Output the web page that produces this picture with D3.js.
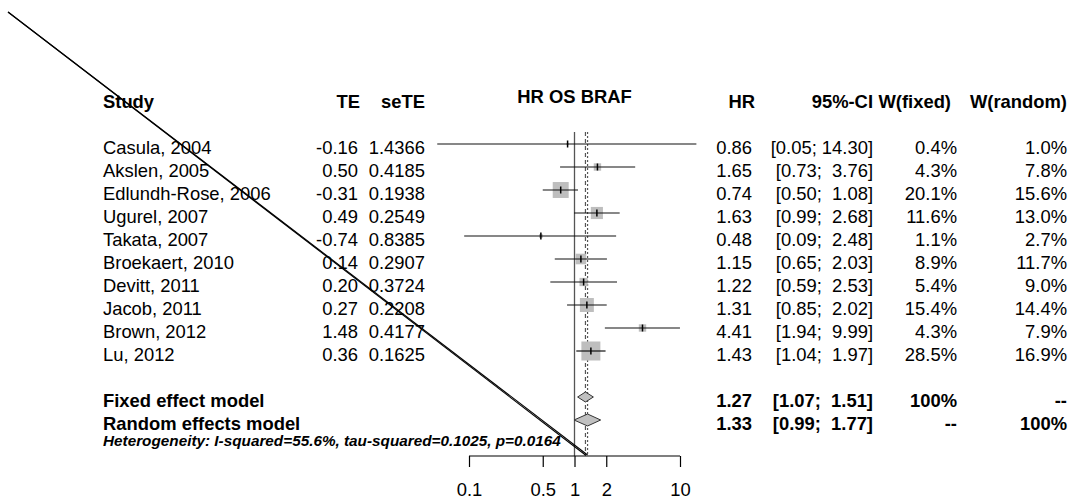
<!DOCTYPE html>
<html>
<head>
<meta charset="utf-8">
<script src="https://cdn.jsdelivr.net/npm/d3@7"></script>
<style>
html,body{margin:0;padding:0;background:#fff;}
svg text{font-family:"Liberation Sans",Arial,sans-serif;white-space:pre;}
</style>
</head>
<body>
<svg id="chart" width="1070" height="502"></svg>
<script>
const studies = ["Casula, 2004","Akslen, 2005","Edlundh-Rose, 2006","Ugurel, 2007","Takata, 2007","Broekaert, 2010","Devitt, 2011","Jacob, 2011","Brown, 2012","Lu, 2012"];
const te = [-0.16,0.50,-0.31,0.49,-0.74,0.14,0.20,0.27,1.48,0.36];
const seTE = [1.4366,0.4185,0.1938,0.2549,0.8385,0.2907,0.3724,0.2208,0.4177,0.1625];
const hr = [0.86,1.65,0.74,1.63,0.48,1.15,1.22,1.31,4.41,1.43];
const lower = [0.05,0.73,0.50,0.99,0.09,0.65,0.59,0.85,1.94,1.04];
const upper = [14.30,3.76,1.08,2.68,2.48,2.03,2.53,2.02,9.99,1.97];
const wFixed = [0.4,4.3,20.1,11.6,1.1,8.9,5.4,15.4,4.3,28.5];
const wRandom = [1.0,7.8,15.6,13.0,2.7,11.7,9.0,14.4,7.9,16.9];
const modelNames = ["Fixed effect model","Random effects model"];
const modelHR = [1.27,1.33];
const modelLower = [1.07,0.99];
const modelUpper = [1.51,1.77];
const modelWFixed = ["100%","--"];
const modelWRandom = ["--","100%"];
const axisTicks = [0.1,0.5,1,2,10];
const headers = ["Study","TE","seTE","HR OS BRAF","HR","95%-CI","W(fixed)","W(random)"];
const heterogeneity = "Heterogeneity: I-squared=55.6%, tau-squared=0.1025, p=0.0164";

const svg = d3.select("#chart");
const FS = 18.4;
const x = d3.scaleLog().domain([0.1,10]).range([469,680]);
const y = d3.scaleLinear().domain([0,13]).range([144,443]);
const sq = d3.scaleSqrt().domain([0,28.5]).range([0,19]);
const axisY = 456;
const topLine = 132;

const col = {study:103, te:358, se:425, hr:752, ci:873, wf:957, wr:1067};
const f2 = v => v.toFixed(2);
const pad = (s,n) => " ".repeat(Math.max(0,n-s.length)) + s;
const ciText = (lo,hi) => "[" + f2(lo) + "; " + pad(f2(hi),5) + "]";

function txt(xp, yp, s, anchor, weight, size, style){
  return svg.append("text").attr("x",xp).attr("y",yp).attr("text-anchor",anchor||"start")
    .attr("font-weight",weight||"normal").attr("font-size",size||FS)
    .attr("font-style",style||"normal").attr("fill","#000").text(s);
}

// headers
const hy = y(-2)+9.5;
txt(col.study,hy,headers[0],"start","bold");
txt(360,hy,headers[1],"end","bold");
txt(col.se,hy,headers[2],"end","bold");
txt(x(1),103,headers[3],"middle","bold");
txt(755,hy,headers[4],"end","bold");
txt(col.ci,hy,headers[5],"end","bold");
txt(951,hy,headers[6],"end","bold");
txt(col.wr,hy,headers[7],"end","bold");

// reference lines
svg.append("line").attr("x1",x(1)).attr("x2",x(1)).attr("y1",topLine).attr("y2",axisY)
  .attr("stroke","#555").attr("stroke-width",1.3);
svg.append("line").attr("x1",x(modelHR[0])).attr("x2",x(modelHR[0])).attr("y1",topLine).attr("y2",axisY)
  .attr("stroke","#555").attr("stroke-width",1.2).attr("stroke-dasharray","4,3");
svg.append("line").attr("x1",x(modelHR[1])).attr("x2",x(modelHR[1])).attr("y1",topLine).attr("y2",axisY)
  .attr("stroke","#555").attr("stroke-width",1.2).attr("stroke-dasharray","2,2");

// study rows
studies.forEach((s,i)=>{
  const yy = y(i), ty = yy+9.5;
  txt(col.study,ty,s);
  txt(col.te,ty,f2(te[i]),"end");
  txt(col.se,ty,seTE[i].toFixed(4),"end");
  txt(col.hr,ty,f2(hr[i]),"end");
  txt(col.ci,ty,ciText(lower[i],upper[i]),"end");
  txt(col.wf,ty,wFixed[i].toFixed(1)+"%","end");
  txt(col.wr,ty,wRandom[i].toFixed(1)+"%","end");
  const side = sq(wFixed[i]);
  svg.append("rect").attr("x",x(hr[i])-side/2).attr("y",yy-side/2).attr("width",side).attr("height",side)
    .attr("fill","#bebebe");
  svg.append("line").attr("x1",x(lower[i])).attr("x2",x(upper[i])).attr("y1",yy).attr("y2",yy)
    .attr("stroke","#111").attr("stroke-width",1.2);
  svg.append("line").attr("x1",x(hr[i])).attr("x2",x(hr[i])).attr("y1",yy-3.5).attr("y2",yy+3.5)
    .attr("stroke","#000").attr("stroke-width",1.5);
});

// model rows
const dh = [10,12];
modelNames.forEach((m,k)=>{
  const yy = y(11+k), ty = yy+10;
  txt(col.study,ty,m,"start","bold");
  txt(col.hr,ty,f2(modelHR[k]),"end","bold");
  txt(col.ci,ty,ciText(modelLower[k],modelUpper[k]),"end","bold");
  txt(col.wf,ty,modelWFixed[k],"end","bold");
  txt(col.wr,ty,modelWRandom[k],"end","bold");
  const h = dh[k]/2;
  svg.append("path").attr("d",
    "M"+x(modelLower[k])+","+yy+"L"+x(modelHR[k])+","+(yy-h)+"L"+x(modelUpper[k])+","+yy+"L"+x(modelHR[k])+","+(yy+h)+"Z")
    .attr("fill","#c0c0c0").attr("stroke","#333").attr("stroke-width",1);
});

txt(col.study,446,heterogeneity,"start","bold",15.3,"italic");

// axis
const axis = d3.axisBottom(x).tickValues(axisTicks).tickFormat(d=>String(d)).tickSize(11).tickPadding(16);
const ag = svg.append("g").attr("transform","translate(0,"+axisY+")").call(axis);
ag.select(".domain").attr("d","M"+x(0.1)+",0H"+x(10)).attr("stroke","#000").attr("stroke-width",1.2);
ag.selectAll(".tick line").attr("stroke","#000").attr("stroke-width",1.2);
ag.selectAll(".tick text").attr("font-size",FS).attr("font-family","Liberation Sans,Arial,sans-serif").attr("fill","#000");

// stray diagonal strokes (present in reference)
[modelHR[0],modelHR[1]].forEach(v=>{
  svg.append("line").attr("x1",8).attr("y1",12).attr("x2",x(v)).attr("y2",axisY-1)
    .attr("stroke","#000").attr("stroke-width",1.1);
});
</script>
</body>
</html>
